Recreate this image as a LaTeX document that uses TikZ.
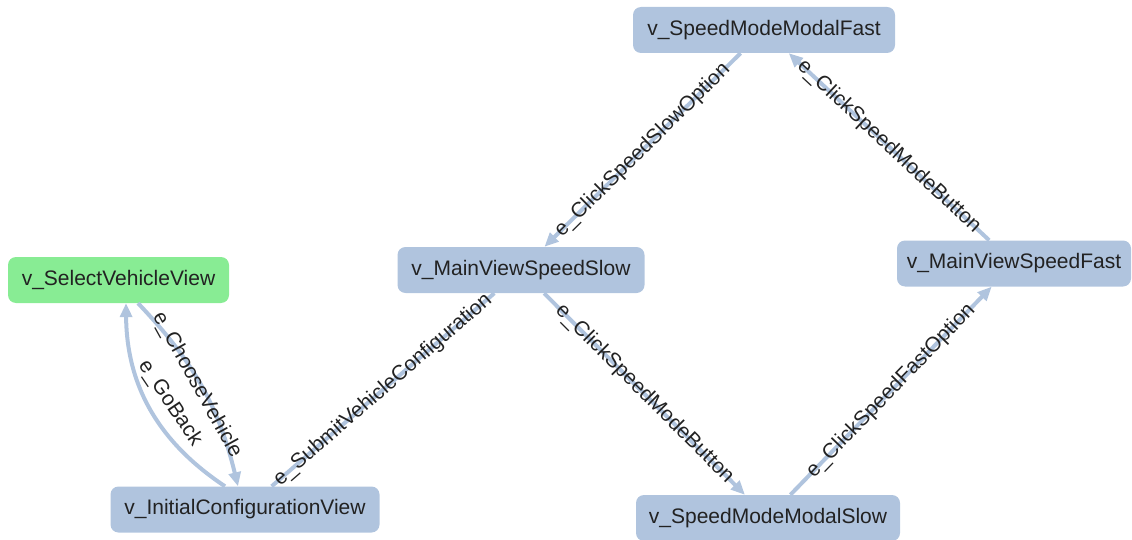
\documentclass[tikz,border=0pt]{standalone}
\usepackage{fontspec}
\setmainfont{Liberation Sans}
\usetikzlibrary{arrows.meta}
\definecolor{nodeblue}{HTML}{B0C4DE}
\definecolor{nodegreen}{HTML}{88EC94}
\definecolor{txt}{HTML}{222222}
\begin{document}
\begin{tikzpicture}[x=1pt,y=-1pt,
  state/.style={rectangle, rounded corners=8pt, fill=nodeblue, text=txt, minimum height=46pt, inner xsep=0pt, font=\fontsize{21}{21}\selectfont},
  startstate/.style={state, fill=nodegreen},
  edge/.style={draw=nodeblue, line width=4pt, -{Triangle[length=14pt,width=12pt]}},
  plainedge/.style={draw=nodeblue, line width=4pt},
  elabel/.style={font=\fontsize{21}{21}\selectfont, text=txt, inner sep=0pt},
  onlabel/.style={elabel, sloped, midway}
]
\useasboundingbox (0,0) rectangle (1132,540);
\node[state, minimum width=262pt] (msf) at (764,30) {v\_SpeedModeModalFast};
\node[startstate, minimum width=221pt] (sel) at (118.5,280) {v\_SelectVehicleView};
\node[state, minimum width=269pt] (init) at (245,509.5) {v\_InitialConfigurationView};
\node[state, minimum width=247pt] (mvs) at (521,270) {v\_MainViewSpeedSlow};
\node[state, minimum width=234pt] (mvf) at (1014,263.5) {v\_MainViewSpeedFast};
\node[state, minimum width=264pt] (mss) at (768,518) {v\_SpeedModeModalSlow};

\draw[edge] (msf) -- node[onlabel]{e\_ClickSpeedSlowOption} (mvs);
\draw[edge] (mvf) -- node[onlabel]{e\_ClickSpeedModeButton} (msf);
\draw[edge] (mvs) -- node[onlabel]{e\_ClickSpeedModeButton} (mss);
\draw[edge] (mss) -- node[onlabel]{e\_ClickSpeedFastOption} (mvf);
\draw[plainedge] (init) -- node[onlabel]{e\_SubmitVehicleConfiguration} (mvs);

\draw[edge] ([xshift=19.5pt]sel.south) to[bend left=15] ([xshift=-7pt]init.north);
\draw[edge] ([xshift=-20pt]init.north) to[bend left=28] ([xshift=7.5pt]sel.south);
\node[elabel, rotate=-61] (lcv) at (197,385) {e\_ChooseVehicle};
\node[elabel, rotate=-56] (lgb) at (170,403) {e\_GoBack};
\end{tikzpicture}
\end{document}
